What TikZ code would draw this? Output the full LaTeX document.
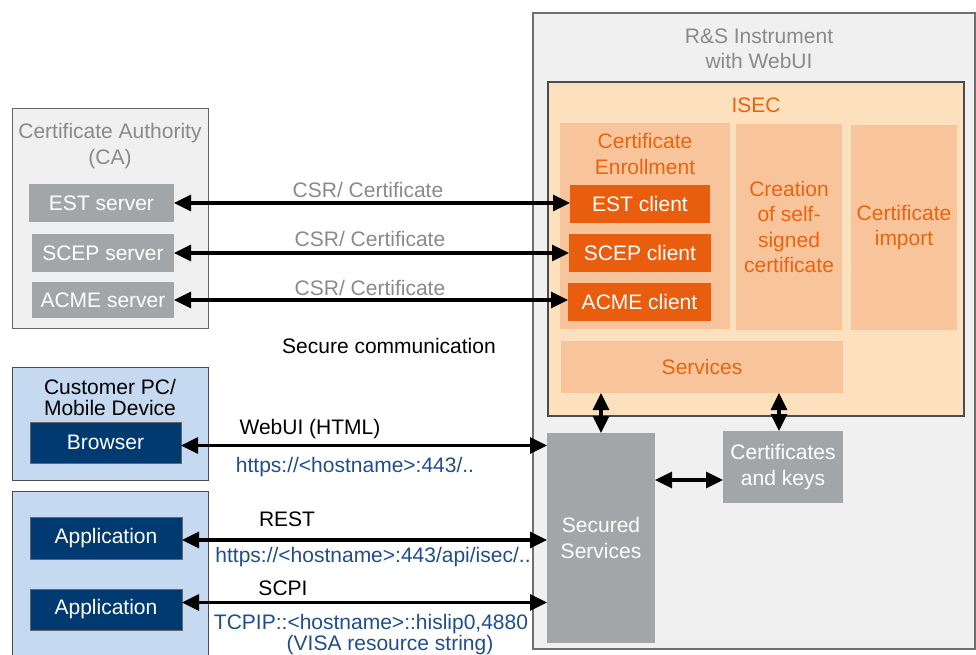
\documentclass[tikz,border=0pt]{standalone}
\usepackage{fontspec}
\setmainfont{Liberation Sans}
\usetikzlibrary{arrows.meta}

\definecolor{panelbg}{HTML}{F0F0F0}
\definecolor{panelline}{HTML}{6F6F6F}
\definecolor{peach}{HTML}{FDE0BD}
\definecolor{salmon}{HTML}{F8C49B}
\definecolor{rsorange}{HTML}{E95D0F}
\definecolor{orangetext}{HTML}{E8640F}
\definecolor{boxgray}{HTML}{A3A6A9}
\definecolor{navy}{HTML}{003A70}
\definecolor{paleblue}{HTML}{C5D9F0}
\definecolor{linkblue}{HTML}{1F4E8C}
\definecolor{graytext}{HTML}{8A8A8A}

\begin{document}
\begin{tikzpicture}[x=1pt,y=-1pt,
  every node/.style={font=\fontsize{21}{25.5}\selectfont, inner sep=0pt, outer sep=0pt},
  rect/.style={anchor=north west, align=center},
  panel/.style={rect, fill=panelbg, draw=panelline, line width=1.4pt},
  isecbox/.style={rect, fill=peach, draw=black!70, line width=1.2pt},
  subbox/.style={rect, fill=salmon, text=orangetext},
  clientbox/.style={rect, fill=rsorange, text=white},
  graybox/.style={rect, fill=boxgray, text=white},
  hostbox/.style={rect, fill=paleblue, draw=black!70, line width=1pt},
  navybox/.style={rect, fill=navy, text=white, draw=black!60, line width=0.6pt},
  lbl/.style={anchor=base},
  biarrow/.style={{Triangle[length=17pt,width=16pt]}-{Triangle[length=17pt,width=16pt]}, line width=3.2pt}
]
\useasboundingbox (0,0) rectangle (976,655);
\clip (0,0) rectangle (976,655);

% instrument side
\node[panel, minimum width=442, minimum height=636] (rs) at (533,13) {};
\node[text=graytext, align=center] (rstitle) at (759,49) {R\&S Instrument\\with WebUI};
\node[isecbox, minimum width=416, minimum height=334] (isec) at (548,82) {};
\node[text=orangetext] (isectitle) at (756,105) {ISEC};
\node[subbox, minimum width=170, minimum height=206] (enroll) at (560,123) {};
\node[text=orangetext, align=center] (enrolltitle) at (645,154) {Certificate\\Enrollment};
\node[subbox, minimum width=106, minimum height=206] (selfsig) at (736,124) {Creation\\of self-\\signed\\certificate};
\node[subbox, minimum width=106, minimum height=205] (import) at (851,125) {Certificate\\import};
\node[subbox, minimum width=282, minimum height=52] (svc) at (561,341) {Services};
\node[clientbox, minimum width=140, minimum height=38] (estc) at (570,185) {EST client};
\node[clientbox, minimum width=142, minimum height=38] (scpc) at (569,234) {SCEP client};
\node[clientbox, minimum width=143, minimum height=38] (acmc) at (568,283) {ACME client};
\node[graybox, minimum width=108, minimum height=210] (sec) at (547,433) {Secured\\Services};
\node[graybox, minimum width=120, minimum height=72] (keys) at (723,431) {Certificates\\and keys};

% certificate authority
\node[panel, line width=1pt, draw=black!60, minimum width=196, minimum height=219] (ca) at (12,109) {};
\node[text=graytext, align=center] (catitle) at (110,146) {Certificate Authority\\(CA)};
\node[graybox, minimum width=145, minimum height=38] (ests) at (29,184) {EST server};
\node[graybox, minimum width=142, minimum height=38] (scps) at (32,234) {SCEP server};
\node[graybox, minimum width=142, minimum height=36] (acms) at (32,282) {ACME server};

% customer side
\node[hostbox, minimum width=196, minimum height=113] (pc) at (12,367) {};
\node[align=center, font=\fontsize{21}{21}\selectfont] (pctitle) at (110,397) {Customer PC/\\Mobile Device};
\node[navybox, minimum width=151, minimum height=41] (browser) at (30,422) {Browser};
\node[hostbox, minimum width=196, minimum height=180] (apps) at (12,491) {};
\node[navybox, minimum width=152, minimum height=42] (app1) at (30,517) {Application};
\node[navybox, minimum width=152, minimum height=41] (app2) at (30,589) {Application};

% connectors
\draw[biarrow] (ests.east) -- (ests.east -| estc.west);
\draw[biarrow] (scps.east) -- (scps.east -| scpc.west);
\draw[biarrow] (acms.east) -- (acms.east -| acmc.west);
\draw[biarrow] ([yshift=-3]browser.east) -- ([yshift=-3]browser.east -| sec.west);
\draw[biarrow] ([yshift=-2]app1.east) -- ([yshift=-2]app1.east -| sec.west);
\draw[biarrow] ([yshift=7]app2.east) -- ([yshift=7]app2.east -| sec.west);
\draw[biarrow] (sec.north) -- (sec.north |- svc.south);
\coordinate (kn) at ([xshift=-4]keys.north);
\draw[biarrow] (kn) -- (kn |- svc.south);
\coordinate (kw) at ([yshift=-13]keys.west);
\draw[biarrow] (kw) -- (kw -| sec.east);

% connector labels
\node[lbl, text=graytext] (csr1) at (368,197.5) {CSR/ Certificate};
\node[lbl, text=graytext] (csr2) at (370,246.5) {CSR/ Certificate};
\node[lbl, text=graytext] (csr3) at (370,295.5) {CSR/ Certificate};
\node[lbl] (securecomm) at (389,353.5) {Secure communication};
\node[lbl] (webui) at (310,434.5) {WebUI (HTML)};
\node[lbl, text=linkblue] (webuiurl) at (355,472.5) {https://<hostname>:443/..};
\node[lbl] (rest) at (287,526.5) {REST};
\node[lbl, text=linkblue] (resturl) at (373,562.5) {https://<hostname>:443/api/isec/..};
\node[lbl] (scpi) at (283,595.5) {SCPI};
\node[lbl, text=linkblue] (visa) at (371,629.5) {TCPIP::<hostname>::hislip0,4880};
\node[lbl, text=linkblue] (visanote) at (390,650.5) {(VISA resource string)};
\end{tikzpicture}
\end{document}
